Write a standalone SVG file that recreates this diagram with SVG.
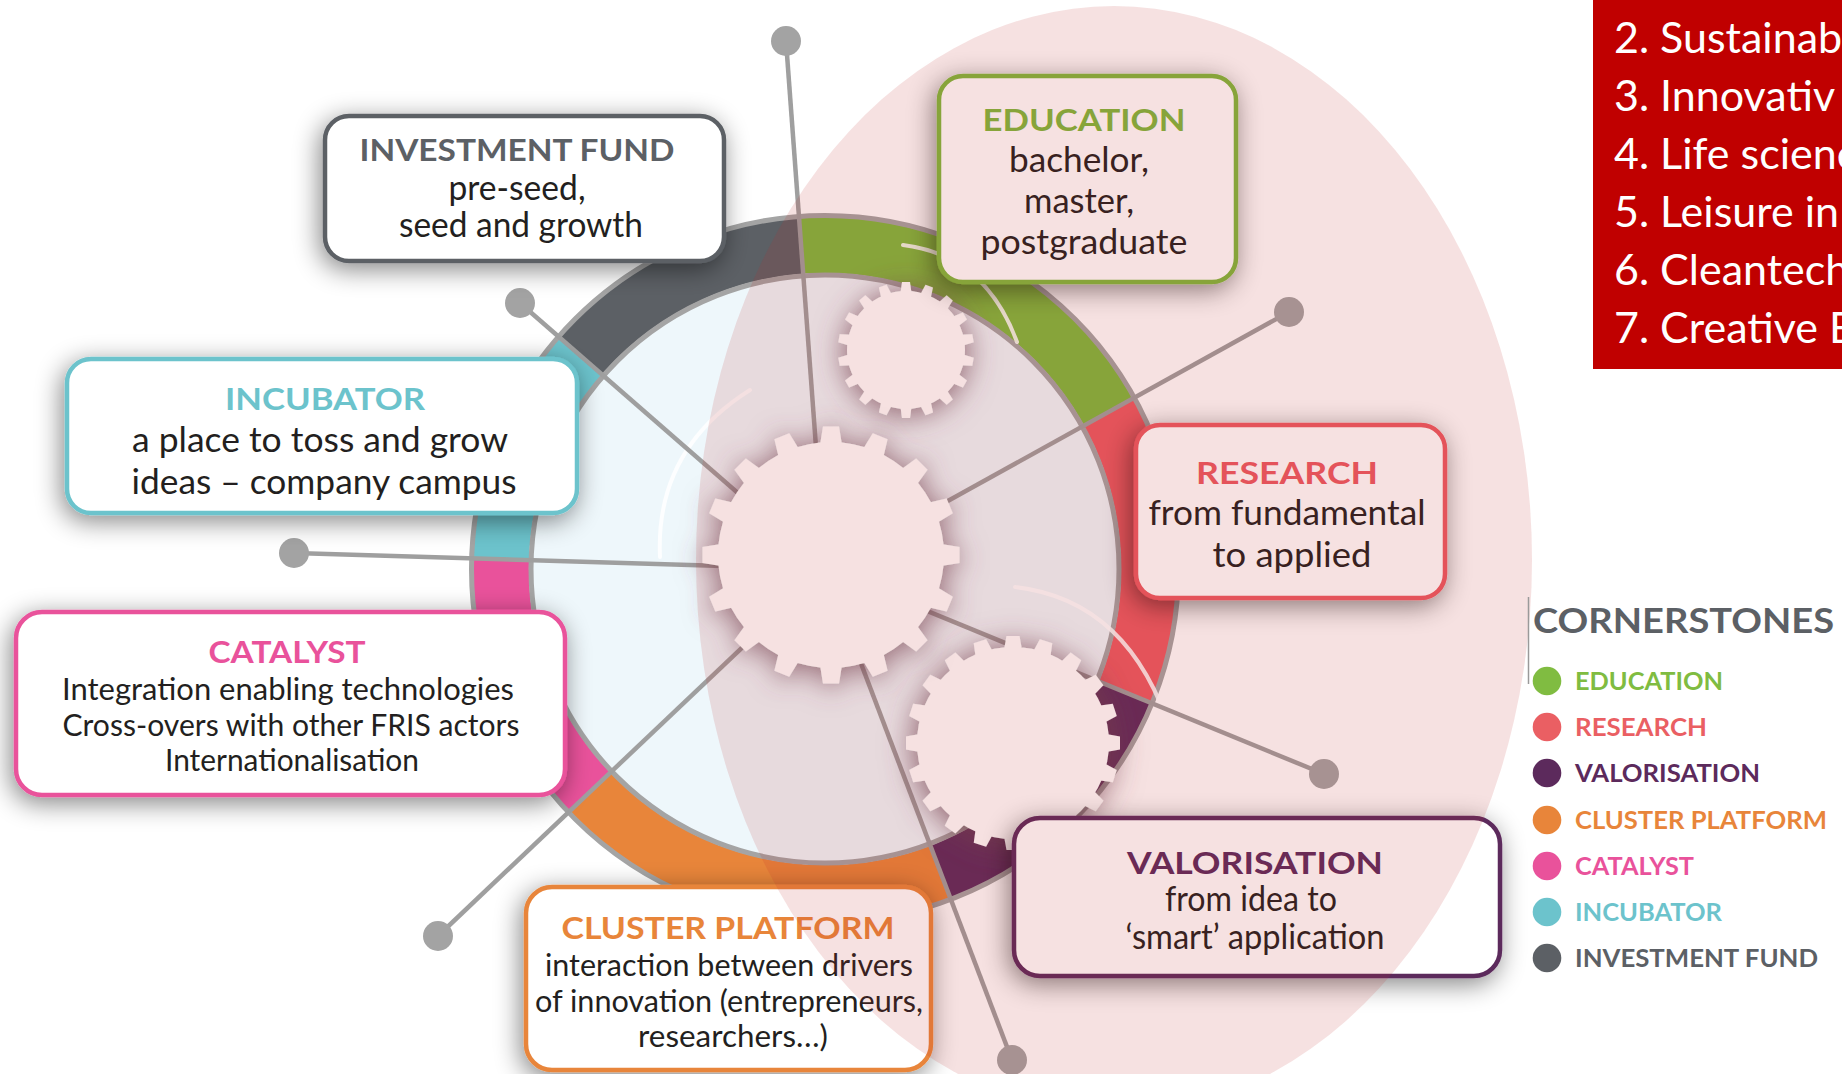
<svg xmlns="http://www.w3.org/2000/svg" width="1842" height="1074" viewBox="0 0 1842 1074">
<defs>
<style>
  text { font-family: Lato, "Liberation Sans", sans-serif; }
  .box { fill: #fff; stroke-width: 4.5; }
  .title { font-weight: 700; font-size: 31px; text-anchor: middle; }
  .body { font-size: 34px; fill: #231f20; text-anchor: middle; }
  .small { font-size: 30px; }
  .seg { fill: none; stroke-width: 56; }
  .rim { fill: none; stroke: #a4a4a4; stroke-width: 5; }
  .spoke { stroke: #9f9f9f; stroke-width: 4.5; fill: none; }
  .dot { fill: #a3a3a3; }
  .gear { fill: #fff; }
  .glint { fill: none; stroke: #fff; stroke-width: 4; stroke-linecap: round; opacity: 0.85; }
  .leg { font-weight: 700; font-size: 24px; }
  .sector { font-size: 43px; fill: #fff; }
</style>
<filter id="boxShadow" x="-25%" y="-35%" width="150%" height="170%">
  <feGaussianBlur in="SourceAlpha" stdDeviation="13"/>
  <feOffset dx="-3" dy="6" result="off"/>
  <feFlood flood-color="#000" flood-opacity="0.48"/>
  <feComposite in2="off" operator="in"/>
  <feMerge><feMergeNode/><feMergeNode in="SourceGraphic"/></feMerge>
</filter>
<filter id="gearShadow" x="-40%" y="-40%" width="180%" height="180%">
  <feGaussianBlur in="SourceAlpha" stdDeviation="14"/>
  <feOffset dx="0" dy="3" result="off"/>
  <feFlood flood-color="#6a4252" flood-opacity="0.72"/>
  <feComposite in2="off" operator="in"/>
  <feMerge><feMergeNode/><feMergeNode in="SourceGraphic"/></feMerge>
</filter>
<path id="toothL" d="M-11 -110 L-8 -128.5 L8 -128.5 L11 -110 Z"/>
<path id="toothS" d="M-5.5 -57 L-4 -68 L4 -68 L5.5 -57 Z"/>
<path id="toothM" d="M-9 -93 L-6.5 -107 L6.5 -107 L9 -93 Z"/>
</defs>

<rect width="1842" height="1074" fill="#fff"/>

<!-- cornerstone ring -->
<g id="ring">
  <circle cx="825" cy="569" r="294" fill="#eef7fb"/>
  <path class="seg" stroke="#5c6065" d="M580.8 356 A324 324 0 0 1 801.3 245.9"/>
  <path class="seg" stroke="#7eb83d" d="M801.3 245.9 A324 324 0 0 1 1108.4 411.9"/>
  <path class="seg" stroke="#ea5a62" d="M1108.4 411.9 A324 324 0 0 1 1124.7 692.1"/>
  <path class="seg" stroke="#5c2a5c" d="M1124.7 692.1 A324 324 0 0 1 940.3 871.8"/>
  <path class="seg" stroke="#e8853a" d="M940.3 871.8 A324 324 0 0 1 590 792"/>
  <path class="seg" stroke="#e9529b" d="M590 792 A324 324 0 0 1 501.1 559.4"/>
  <path class="seg" stroke="#6cc3cc" d="M501.1 559.4 A324 324 0 0 1 580.8 356"/>
  <circle class="rim" cx="825" cy="569" r="353.5"/>
  <circle class="rim" cx="825" cy="569" r="294"/>
  <path class="glint" d="M750 390 Q655 450 660 557"/>
  <path class="glint" d="M903 245 Q985 255 1017 342"/>
  <path class="glint" d="M1015 587 Q1130 600 1172 735"/>
</g>

<!-- spokes from the hub to the end dots -->
<g id="connectors">
  <line class="spoke" x1="825" y1="569" x2="786" y2="41"/>
  <line class="spoke" x1="825" y1="569" x2="520" y2="303"/>
  <line class="spoke" x1="825" y1="569" x2="294" y2="553"/>
  <line class="spoke" x1="825" y1="569" x2="438" y2="936"/>
  <line class="spoke" x1="825" y1="569" x2="1012" y2="1060"/>
  <line class="spoke" x1="825" y1="569" x2="1324" y2="774"/>
  <line class="spoke" x1="825" y1="569" x2="1289" y2="312"/>
  <circle class="dot" cx="786" cy="41" r="15"/>
  <circle class="dot" cx="520" cy="303" r="15"/>
  <circle class="dot" cx="294" cy="553" r="15"/>
  <circle class="dot" cx="438" cy="936" r="15"/>
  <circle class="dot" cx="1012" cy="1060" r="15"/>
  <circle class="dot" cx="1324" cy="774" r="15"/>
  <circle class="dot" cx="1289" cy="312" r="15"/>
</g>

<!-- gears -->
<g id="gears" class="gear">
  <g id="gear-small" transform="translate(906 350)" filter="url(#gearShadow)">
    <circle r="59"/>
    <use href="#toothS"/><use href="#toothS" transform="rotate(20)"/><use href="#toothS" transform="rotate(40)"/>
    <use href="#toothS" transform="rotate(60)"/><use href="#toothS" transform="rotate(80)"/><use href="#toothS" transform="rotate(100)"/>
    <use href="#toothS" transform="rotate(120)"/><use href="#toothS" transform="rotate(140)"/><use href="#toothS" transform="rotate(160)"/>
    <use href="#toothS" transform="rotate(180)"/><use href="#toothS" transform="rotate(200)"/><use href="#toothS" transform="rotate(220)"/>
    <use href="#toothS" transform="rotate(240)"/><use href="#toothS" transform="rotate(260)"/><use href="#toothS" transform="rotate(280)"/>
    <use href="#toothS" transform="rotate(300)"/><use href="#toothS" transform="rotate(320)"/><use href="#toothS" transform="rotate(340)"/>
  </g>
  <g id="gear-lower" transform="translate(1013 743)" filter="url(#gearShadow)">
    <circle r="96"/>
    <use href="#toothM"/><use href="#toothM" transform="rotate(18)"/><use href="#toothM" transform="rotate(36)"/>
    <use href="#toothM" transform="rotate(54)"/><use href="#toothM" transform="rotate(72)"/><use href="#toothM" transform="rotate(90)"/>
    <use href="#toothM" transform="rotate(108)"/><use href="#toothM" transform="rotate(126)"/><use href="#toothM" transform="rotate(144)"/>
    <use href="#toothM" transform="rotate(162)"/><use href="#toothM" transform="rotate(180)"/><use href="#toothM" transform="rotate(198)"/>
    <use href="#toothM" transform="rotate(216)"/><use href="#toothM" transform="rotate(234)"/><use href="#toothM" transform="rotate(252)"/>
    <use href="#toothM" transform="rotate(270)"/><use href="#toothM" transform="rotate(288)"/><use href="#toothM" transform="rotate(306)"/>
    <use href="#toothM" transform="rotate(324)"/><use href="#toothM" transform="rotate(342)"/>
  </g>
  <g id="gear-main" transform="translate(831 555)" filter="url(#gearShadow)">
    <circle r="113"/>
    <use href="#toothL"/><use href="#toothL" transform="rotate(22.5)"/><use href="#toothL" transform="rotate(45)"/>
    <use href="#toothL" transform="rotate(67.5)"/><use href="#toothL" transform="rotate(90)"/><use href="#toothL" transform="rotate(112.5)"/>
    <use href="#toothL" transform="rotate(135)"/><use href="#toothL" transform="rotate(157.5)"/><use href="#toothL" transform="rotate(180)"/>
    <use href="#toothL" transform="rotate(202.5)"/><use href="#toothL" transform="rotate(225)"/><use href="#toothL" transform="rotate(247.5)"/>
    <use href="#toothL" transform="rotate(270)"/><use href="#toothL" transform="rotate(292.5)"/><use href="#toothL" transform="rotate(315)"/>
    <use href="#toothL" transform="rotate(337.5)"/>
  </g>
</g>

<!-- cornerstone boxes -->
<g id="node-investment">
  <rect class="box" x="325" y="116" width="399" height="145" rx="24" stroke="#5c6065" filter="url(#boxShadow)"/>
  <text class="title" x="517" y="161" fill="#5c6065" textLength="315" lengthAdjust="spacingAndGlyphs">INVESTMENT FUND</text>
  <text class="body" x="517" y="200" textLength="137" lengthAdjust="spacingAndGlyphs">pre-seed,</text>
  <text class="body" x="521" y="237" textLength="244" lengthAdjust="spacingAndGlyphs">seed and growth</text>
</g>
<g id="node-incubator">
  <rect class="box" x="67" y="359" width="510" height="154" rx="24" stroke="#6cc3cc" filter="url(#boxShadow)"/>
  <text class="title" x="325" y="410" fill="#6cc3cc" textLength="200" lengthAdjust="spacingAndGlyphs">INCUBATOR</text>
  <text class="body" x="320" y="452" textLength="376" lengthAdjust="spacingAndGlyphs">a place to toss and grow</text>
  <text class="body" x="324" y="494" textLength="385" lengthAdjust="spacingAndGlyphs">ideas – company campus</text>
</g>
<g id="node-catalyst">
  <rect class="box" x="16" y="612" width="549" height="183" rx="26" stroke="#e9529b" filter="url(#boxShadow)"/>
  <text class="title" x="287" y="663" fill="#e9529b" textLength="157" lengthAdjust="spacingAndGlyphs">CATALYST</text>
  <text class="body small" x="288" y="700" textLength="452" lengthAdjust="spacingAndGlyphs">Integration enabling technologies</text>
  <text class="body small" x="291" y="736" textLength="457" lengthAdjust="spacingAndGlyphs">Cross-overs with other FRIS actors</text>
  <text class="body small" x="292" y="771" textLength="254" lengthAdjust="spacingAndGlyphs">Internationalisation</text>
</g>
<g id="node-education">
  <rect class="box" x="939" y="76" width="297" height="206" rx="24" stroke="#7eb83d" filter="url(#boxShadow)"/>
  <text class="title" x="1084" y="131" fill="#7eb83d" textLength="203" lengthAdjust="spacingAndGlyphs">EDUCATION</text>
  <text class="body" x="1079" y="172" textLength="140" lengthAdjust="spacingAndGlyphs">bachelor,</text>
  <text class="body" x="1079" y="213" textLength="110" lengthAdjust="spacingAndGlyphs">master,</text>
  <text class="body" x="1084" y="254" textLength="207" lengthAdjust="spacingAndGlyphs">postgraduate</text>
</g>
<g id="node-research">
  <rect class="box" x="1136" y="425" width="309" height="173" rx="24" stroke="#ea5a62" filter="url(#boxShadow)"/>
  <text class="title" x="1287" y="484" fill="#ea5a62" textLength="182" lengthAdjust="spacingAndGlyphs">RESEARCH</text>
  <text class="body" x="1287" y="525" textLength="277" lengthAdjust="spacingAndGlyphs">from fundamental</text>
  <text class="body" x="1292" y="567" textLength="159" lengthAdjust="spacingAndGlyphs">to applied</text>
</g>
<g id="node-valorisation">
  <rect class="box" x="1014" y="818" width="486" height="158" rx="26" stroke="#5c2a5c" filter="url(#boxShadow)"/>
  <text class="title" x="1255" y="874" fill="#5c2a5c" font-size="32" textLength="256" lengthAdjust="spacingAndGlyphs">VALORISATION</text>
  <text class="body" x="1251" y="911" font-size="32" textLength="172" lengthAdjust="spacingAndGlyphs">from idea to</text>
  <text class="body" x="1255" y="949" font-size="32" textLength="259" lengthAdjust="spacingAndGlyphs">‘smart’ application</text>
</g>
<g id="node-cluster">
  <rect class="box" x="526" y="887" width="405" height="183" rx="26" stroke="#e8853a" filter="url(#boxShadow)"/>
  <text class="title" x="728" y="939" fill="#e8853a" textLength="333" lengthAdjust="spacingAndGlyphs">CLUSTER PLATFORM</text>
  <text class="body small" x="729" y="976" textLength="368" lengthAdjust="spacingAndGlyphs">interaction between drivers</text>
  <text class="body small" x="729" y="1012" textLength="388" lengthAdjust="spacingAndGlyphs">of innovation (entrepreneurs,</text>
  <text class="body small" x="733" y="1047" textLength="190" lengthAdjust="spacingAndGlyphs">researchers…)</text>
</g>

<!-- translucent pink oval laid over the right half -->
<ellipse cx="1114" cy="560" rx="418" ry="554" fill="rgb(190,40,45)" fill-opacity="0.14"/>

<!-- legend -->
<g id="legend">
  <line x1="1528.5" y1="597" x2="1528.5" y2="684" stroke="#9a9a9a" stroke-width="1.5"/>
  <text x="1533" y="633" font-weight="700" font-size="35" fill="#5c6065" textLength="301" lengthAdjust="spacingAndGlyphs">CORNERSTONES</text>
  <circle cx="1547" cy="681" r="14.3" fill="#80bc41"/>
  <text class="leg" x="1575" y="689.5" fill="#80bc41" textLength="148" lengthAdjust="spacingAndGlyphs">EDUCATION</text>
  <circle cx="1547" cy="727" r="14.3" fill="#ea5f63"/>
  <text class="leg" x="1575" y="735.5" fill="#ea5f63" textLength="132" lengthAdjust="spacingAndGlyphs">RESEARCH</text>
  <circle cx="1547" cy="773" r="14.3" fill="#5c2a5c"/>
  <text class="leg" x="1575" y="781.5" fill="#5c2a5c" textLength="185" lengthAdjust="spacingAndGlyphs">VALORISATION</text>
  <circle cx="1547" cy="820" r="14.3" fill="#e8853a"/>
  <text class="leg" x="1575" y="828.5" fill="#e8853a" textLength="252" lengthAdjust="spacingAndGlyphs">CLUSTER PLATFORM</text>
  <circle cx="1547" cy="866" r="14.3" fill="#e9529b"/>
  <text class="leg" x="1575" y="874.5" fill="#e9529b" textLength="119" lengthAdjust="spacingAndGlyphs">CATALYST</text>
  <circle cx="1547" cy="912" r="14.3" fill="#6cc3cc"/>
  <text class="leg" x="1575" y="920.5" fill="#6cc3cc" textLength="147" lengthAdjust="spacingAndGlyphs">INCUBATOR</text>
  <circle cx="1547" cy="958" r="14.3" fill="#5c6065"/>
  <text class="leg" x="1575" y="966.5" fill="#5c6065" textLength="243" lengthAdjust="spacingAndGlyphs">INVESTMENT FUND</text>
</g>

<!-- sector list panel, cut by the right edge -->
<g id="sectors">
  <rect x="1593" y="-5" width="260" height="374" fill="#c00000"/>
  <text class="sector" x="1614" y="53">2. Sustainab</text>
  <text class="sector" x="1614" y="111">3. Innovativ</text>
  <text class="sector" x="1614" y="169">4. Life scienc</text>
  <text class="sector" x="1614" y="227">5. Leisure in</text>
  <text class="sector" x="1614" y="285">6. Cleantech</text>
  <text class="sector" x="1614" y="343">7. Creative E</text>
</g>
</svg>
